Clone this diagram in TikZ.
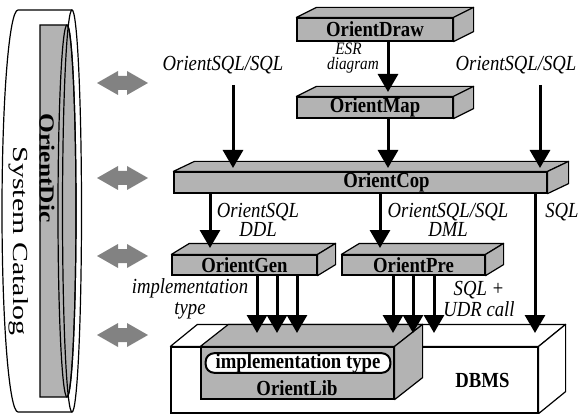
\documentclass[tikz,border=0pt]{standalone}
\usepackage{fontspec}
\setmainfont{Liberation Serif}[FakeStretch=0.87]
\usetikzlibrary{arrows.meta,calc}

\definecolor{slabgray}{RGB}{179,179,179}
\definecolor{linkgray}{RGB}{130,130,130}

\tikzset{
	slab/.style={draw, line width=1.2pt, fill=slabgray, inner sep=0pt, font=\fontsize{21.5}{22}\selectfont\bfseries},
	flow/.style={line width=3pt, -{Triangle[length=18pt,width=20pt]}},
	lbl/.style={inner sep=0pt, align=center, font=\fontsize{21.5}{21}\selectfont\itshape},
}

\newcommand{\slabsides}[3][slabgray]{%
	\draw[line width=1.2pt, fill=#1, line join=round] (#2.north west) -- ++(#3) -- ($(#2.north east)+(#3)$) -- (#2.north east) -- cycle;
	\draw[line width=1.2pt, fill=#1, line join=round] (#2.north east) -- ++(#3) -- ($(#2.south east)+(#3)$) -- (#2.south east) -- cycle;
}

\begin{document}
\begin{tikzpicture}[x=1pt,y=1pt,yscale=-1]
	\useasboundingbox (0,0) rectangle (578,414);

	\draw[line width=1.2pt, fill=white] (72,10) -- (18,10) arc[start angle=270, end angle=90, x radius=16, y radius=201] -- (72,412);
	\draw[line width=1.2pt, fill=slabgray] (67,25) -- (40,25) -- (40,397) -- (67,397) arc[start angle=90, end angle=-90, x radius=9, y radius=186] -- cycle;
	\draw[line width=1.2pt] (67,211) ellipse [x radius=9, y radius=186];
	\draw[line width=1.2pt] (72,211) ellipse [x radius=9.5, y radius=201];
	\node[rotate=-90, xscale=1.36, inner sep=0pt, font=\fontsize{21.5}{22}\selectfont\bfseries] (dic) at (47,168) {OrientDic};
	\node[rotate=-90, xscale=1.6, inner sep=0pt, font=\fontsize{21.5}{22}\selectfont] (catalog) at (19,241) {System Catalog};

	\foreach \y in {83,178,256,335}
		\fill[linkgray] (97,\y) -- (118,\y-12) -- (118,\y-7) -- (127,\y-7) -- (127,\y-12) -- (148,\y) -- (127,\y+12) -- (127,\y+7) -- (118,\y+7) -- (118,\y+12) -- cycle;

	\node[slab, minimum width=156pt, minimum height=23pt] (odraw) at (375,29.5) {OrientDraw};
	\slabsides{odraw}{20,-10}
	\node[slab, minimum width=156pt, minimum height=21pt] (omap) at (375,107.5) {OrientMap};
	\slabsides{omap}{20,-10}
	\node[slab, minimum width=373pt, minimum height=21pt, label={[xshift=26pt, font=\fontsize{21.5}{22}\selectfont\bfseries]center:OrientCop}] (ocop) at (360.5,182.5) {};
	\slabsides{ocop}{21,-10}
	\node[slab, minimum width=145pt, minimum height=20pt] (ogen) at (244.5,265) {OrientGen};
	\slabsides{ogen}{18,-11}
	\node[slab, minimum width=143pt, minimum height=20pt] (opre) at (413.5,265) {OrientPre};
	\slabsides{opre}{18,-11}

	\node[slab, fill=white, minimum width=367pt, minimum height=66pt, label={[xshift=128pt, font=\fontsize{21.5}{22}\selectfont\bfseries]center:DBMS}] (dbms) at (354.5,380) {};
	\slabsides[white]{dbms}{27,-22}
	\node[slab, minimum width=193pt, minimum height=52pt] (olib) at (297.5,373) {};
	\slabsides{olib}{28,-22}
	\node[draw, line width=2pt, fill=white, rounded corners=8.5pt, inner xsep=10pt, inner ysep=0pt, minimum height=17pt, font=\fontsize{21.5}{22}\selectfont\bfseries] (impl) at (298,363) {implementation type};
	\node[inner sep=0pt, font=\fontsize{21.5}{22}\selectfont\bfseries] (libname) at (297,388) {OrientLib};

	\node[lbl] (lblL) at (223,65) {OrientSQL/SQL};
	\node[lbl] (lblR) at (516,65) {OrientSQL/SQL};
	\node[lbl, font=\fontsize{17.5}{15}\selectfont\itshape] (lblEsr) at (353,58) {ESR\hspace*{9pt}\\diagram};
	\node[lbl, font=\fontsize{21.5}{18.5}\selectfont\itshape] (lblDdl) at (258,220) {OrientSQL\\DDL};
	\node[lbl, font=\fontsize{21.5}{18.5}\selectfont\itshape] (lblDml) at (448,220) {OrientSQL/SQL\\DML};
	\node[lbl] (lblSql) at (562,212) {SQL};
	\node[lbl] (lblImpl) at (190,299) {implementation\\type};
	\node[lbl] (lblUdr) at (479,299) {SQL +\\UDR call};

	\coordinate (srcA) at (233,85);
	\coordinate (srcC) at (540,85);
	\coordinate (mapIn) at (388,92);
	\coordinate (copInA) at (233,168);
	\coordinate (copInB) at (388,168);
	\coordinate (copInC) at (540,168);
	\coordinate (genIn) at (210,248);
	\coordinate (preIn) at (380,248);
	\coordinate (sqlIn) at (535,333);
	\draw[flow] (odraw.south -| mapIn) -- (mapIn);
	\draw[flow] (srcA) -- (copInA);
	\draw[flow] (omap.south -| copInB) -- (copInB);
	\draw[flow] (srcC) -- (copInC);
	\draw[flow] (ocop.south -| genIn) -- (genIn);
	\draw[flow] (ocop.south -| preIn) -- (preIn);
	\draw[flow] (ocop.south -| sqlIn) -- (sqlIn);
	\foreach \x [count=\i] in {257,277,297} {
		\coordinate (libIn\i) at (\x,333);
		\draw[flow] (ogen.south -| libIn\i) -- (libIn\i);
	}
	\foreach \x [count=\i] in {393,413,434} {
		\coordinate (dbIn\i) at (\x,333);
		\draw[flow] (opre.south -| dbIn\i) -- (dbIn\i);
	}
\end{tikzpicture}
\end{document}
